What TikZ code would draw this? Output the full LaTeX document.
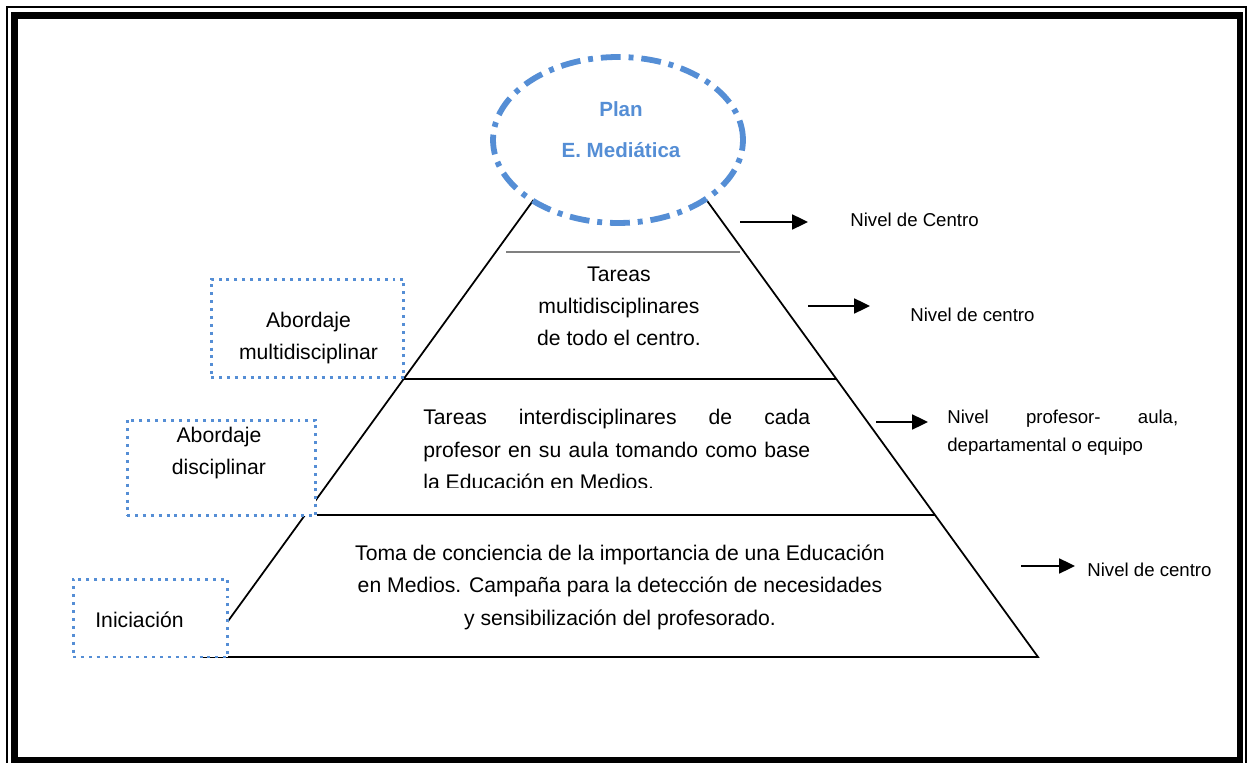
\documentclass[tikz,border=0pt]{standalone}
\usepackage{fontspec}
\setmainfont{Liberation Sans}
\usetikzlibrary{arrows.meta, shapes.geometric}
\definecolor{planblue}{RGB}{85,142,213}

\begin{document}
\begin{tikzpicture}[x=0.02cm, y=-0.02cm,
    pyr/.style={line width=1pt},
    dotbox/.style={draw=planblue, fill=white, line width=1.7pt,
        dash pattern=on 1.7pt off 2.8pt, inner sep=0pt},
    bodytext/.style={font=\fontsize{12.05}{18.3}\selectfont, inner sep=0pt},
    leveltext/.style={font=\fontsize{10.6}{15.9}\selectfont, inner sep=0pt, anchor=base west},
    levelarrow/.style={line width=1.1pt, -{Triangle[length=9pt,width=8.5pt]}}]

\useasboundingbox (0,0) rectangle (1248,763);
\clip (0,0) rectangle (1248,763);

% ---- MARC DOBLE ----
\draw[line width=0.6pt] (7,7) rectangle (1246,790);
\draw[line width=3.9pt] (14.5,15.5) rectangle (1240,760.5);

% ---- PIRÀMIDE ----
\coordinate (apexL) at (533.5,200);
\coordinate (apexR) at (706.5,200);
\coordinate (baseL) at (202,657);
\coordinate (baseR) at (1038,657);
\draw[pyr] (apexL) -- (baseL) -- (baseR) -- (apexR);
% Nivells
\draw[gray, line width=0.6pt] (506,252) -- (740,252);
\draw[pyr] (404,379) -- (836,379);
\draw[pyr] (317,515) -- (935,515);

% ---- PLA (el·lipse) ----
\node[ellipse, draw=planblue, line width=3.3pt,
    dash pattern=on 11.3pt off 4.5pt on 2.8pt off 4.5pt,
    minimum width=5cm, minimum height=3.32cm, inner sep=0pt] (planoval) at (618,140) {};
% (base = darrera línia)
\node[font=\bfseries\fontsize{11.7}{23.8}\selectfont, text=planblue, align=center,
    anchor=base, inner sep=0pt] (plantext) at (621,158) {Plan\\E. Mediática};

% ---- TEXTOS DE LA PIRÀMIDE ----
\node[bodytext, align=center, anchor=base] (tareasmulti) at (619,346)
    {Tareas\\multidisciplinares\\de todo el centro.};
\begin{scope}
    \clip (380,360) rectangle (860,488);
    \node[bodytext, text width=7.74cm, align=justify, anchor=base west] (tareasinter) at (423,425)
        {Tareas interdisciplinares de cada\linebreak profesor en su aula tomando como base\linebreak la Educación en Medios.};
\end{scope}
\node[bodytext, align=center, anchor=base] (tomaconciencia) at (620,625)
    {Toma de conciencia de la importancia de una Educación\\
     en Medios. Campaña para la detección de necesidades\\
     y sensibilización del profesorado.};

% ---- ABORDATGES (esquerra) ----
\node[dotbox, minimum width=3.86cm, minimum height=1.98cm] (boxmulti) at (307.5,328.5) {};
\node[bodytext, align=center, anchor=base] (txtmulti) at (308.5,360) {Abordaje\\multidisciplinar};
\node[dotbox, minimum width=3.78cm, minimum height=1.92cm] (boxdisc) at (221.5,468) {};
\node[bodytext, align=center, anchor=base] (txtdisc) at (219,475) {Abordaje\\disciplinar};
\node[dotbox, minimum width=3.10cm, minimum height=1.56cm] (boxini) at (150.5,618) {};
\node[bodytext, anchor=base west] (txtini) at (95,627) {Iniciación};

% ---- NIVELLS (dreta) ----
\coordinate (n1s) at (740,222);
\coordinate (n1e) at (808,222);
\draw[levelarrow] (n1s) -- (n1e);
\node[leveltext] (nivel1) at (850,227) {Nivel de Centro};

\coordinate (n2s) at (808,306);
\coordinate (n2e) at (870,306);
\draw[levelarrow] (n2s) -- (n2e);
\node[leveltext] (nivel2) at (910,322) {Nivel de centro};

\coordinate (n3s) at (876,422);
\coordinate (n3e) at (928,422);
\draw[levelarrow] (n3s) -- (n3e);
\node[leveltext, text width=4.62cm, align=justify] (nivel3) at (947,424)
    {Nivel profesor- aula,\linebreak departamental o equipo};

\coordinate (n4s) at (1021,566);
\coordinate (n4e) at (1075,566);
\draw[levelarrow] (n4s) -- (n4e);
\node[leveltext] (nivel4) at (1087,576) {Nivel de centro};

\end{tikzpicture}
\end{document}
